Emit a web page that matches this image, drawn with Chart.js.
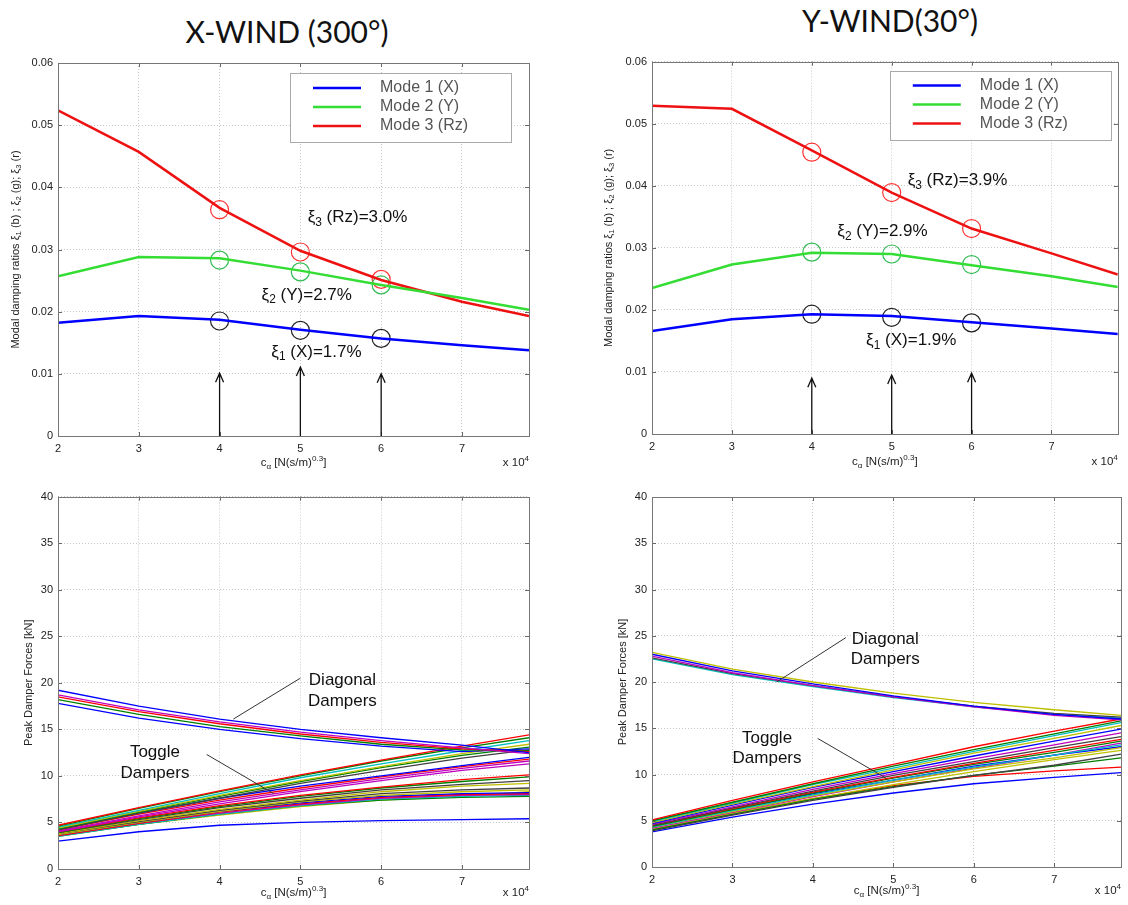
<!DOCTYPE html>
<html>
<head>
<meta charset="utf-8">
<script src="https://cdn.jsdelivr.net/npm/chart.js@4.4.1/dist/chart.umd.min.js"></script>
<style>
  body { margin: 0; background: #fff; width: 1128px; height: 905px; position: relative; overflow: hidden; font-family: Arial, "Liberation Sans", sans-serif; }
  .box { position: absolute; }
  .ttl { position: absolute; font-family: Lato, "Open Sans", sans-serif; font-weight: 400; font-size: 30px; color: #111; white-space: nowrap; transform: translateX(-50%); }
</style>
</head>
<body>
<div class="ttl" style="left:287px;top:13px">X-WIND (300°)</div>
<div class="ttl" style="left:890px;top:2px">Y-WIND(30°)</div>
<div class="box" style="left:0;top:50px;width:560px;height:430px"><canvas id="tl"></canvas></div>
<div class="box" style="left:565px;top:50px;width:563px;height:430px"><canvas id="tr"></canvas></div>
<div class="box" style="left:0;top:485px;width:560px;height:420px"><canvas id="bl"></canvas></div>
<div class="box" style="left:565px;top:485px;width:563px;height:420px"><canvas id="br"></canvas></div>
<script>
// x values (units of 10^4)
const cAlpha = [2, 3, 4, 5, 6, 7, 7.83];
const markX = [4, 5, 6];

// X-wind modal damping
const xMode1 = [0.0182, 0.0193, 0.0187, 0.0171, 0.0157, 0.0146, 0.0138];
const xMode2 = [0.0257, 0.0288, 0.0286, 0.0266, 0.0243, 0.0222, 0.0203];
const xMode3 = [0.0524, 0.0457, 0.0367, 0.0298, 0.0251, 0.0216, 0.0193];
const xMark1 = [0.0185, 0.0170, 0.0157];
const xMark2 = [0.0283, 0.0264, 0.0243];
const xMark3 = [0.0364, 0.0296, 0.0252];
const xArrowTop = [0.0101, 0.0111, 0.0100];

// Y-wind modal damping
const yMode1 = [0.0166, 0.0185, 0.0193, 0.0190, 0.0180, 0.0170, 0.0161];
const yMode2 = [0.0235, 0.0273, 0.0292, 0.0290, 0.0272, 0.0254, 0.0237];
const yMode3 = [0.0529, 0.0524, 0.0457, 0.0389, 0.0331, 0.0291, 0.0257];
const yMark1 = [0.0193, 0.0188, 0.0179];
const yMark2 = [0.0293, 0.0290, 0.0273];
const yMark3 = [0.0454, 0.0389, 0.0331];
const yArrowTop = [0.0090, 0.0095, 0.0098];

const modeNames = ["Mode 1 (X)", "Mode 2 (Y)", "Mode 3 (Rz)"];
const modeColors = ["#0000ff", "#33dd33", "#ee1111"];
const markColors = ["#222222", "#33bb55", "#ff3333"];

// matlab colour order
const mB = "#0000ff", mG = "#008000", mR = "#ff0000", mC = "#00bfbf", mM = "#bf00bf", mY = "#bfbf00", mK = "#404040";

// X-wind peak damper forces [kN]
const xDiagonal = [
  [19.2, 17.5, 16.1, 15.0, 14.1, 13.3, 12.5],
  [18.7, 17.1, 15.8, 14.7, 13.8, 13.0, 12.4],
  [18.5, 16.9, 15.6, 14.5, 13.6, 12.9, 12.6],
  [18.2, 16.6, 15.3, 14.3, 13.4, 12.8, 12.7],
  [17.8, 16.2, 15.0, 14.0, 13.2, 12.6, 12.9]
];
const xDiagonalColors = [mB, mM, mR, mG, mB];
const xToggle = [
  [4.7, 6.6, 8.4, 10.1, 11.7, 13.2, 14.4],
  [4.6, 6.5, 8.3, 10.0, 11.6, 13.0, 14.1],
  [4.5, 6.3, 8.1, 9.8, 11.3, 12.7, 13.8],
  [4.4, 6.2, 7.9, 9.5, 11.0, 12.4, 13.4],
  [4.3, 6.1, 7.8, 9.4, 10.9, 12.2, 13.1],
  [4.2, 6.0, 7.6, 9.2, 10.6, 11.9, 12.8],
  [4.3, 6.0, 7.6, 8.9, 10.0, 11.1, 12.0],
  [4.2, 5.9, 7.4, 8.7, 9.9, 11.0, 11.8],
  [4.1, 5.7, 7.2, 8.5, 9.7, 10.8, 11.6],
  [4.0, 5.6, 7.0, 8.3, 9.5, 10.6, 11.3],
  [4.0, 5.5, 6.8, 7.9, 8.8, 9.6, 10.1],
  [3.9, 5.4, 6.7, 7.8, 8.7, 9.4, 9.9],
  [3.9, 5.3, 6.6, 7.6, 8.5, 9.1, 9.5],
  [3.8, 5.2, 6.4, 7.4, 8.3, 8.9, 9.2],
  [3.8, 5.1, 6.3, 7.3, 8.1, 8.5, 8.7],
  [3.7, 5.0, 6.2, 7.2, 7.9, 8.3, 8.5],
  [3.7, 5.0, 6.2, 7.1, 7.8, 8.1, 8.2],
  [3.6, 4.9, 6.1, 7.0, 7.7, 8.0, 8.1],
  [3.6, 4.9, 6.0, 6.9, 7.6, 7.9, 8.0],
  [3.5, 4.8, 5.9, 6.8, 7.5, 7.8, 7.9],
  [3.5, 4.8, 5.9, 6.8, 7.4, 7.7, 7.8],
  [3.6, 4.8, 5.8, 6.7, 7.4, 7.8, 8.3],
  [3.0, 4.0, 4.7, 5.0, 5.2, 5.3, 5.4]
];
const xToggleColors = [mR, mG, mC, mY, mG, mK, mB, mR, mM, mM, mR, mG, mK, mY, mK, mY, mB, mR, mM, mC, mG, mY, mB];

// Y-wind peak damper forces [kN]
const yDiagonal = [
  [23.2, 21.4, 20.0, 18.8, 17.8, 17.0, 16.4],
  [23.0, 21.2, 19.8, 18.5, 17.4, 16.5, 16.0],
  [22.8, 21.0, 19.6, 18.4, 17.3, 16.4, 15.9],
  [22.6, 20.9, 19.6, 18.4, 17.4, 16.6, 16.2],
  [22.5, 20.8, 19.5, 18.3, 17.3, 16.5, 16.1]
];
const yDiagonalColors = [mY, mB, mM, mK, mC];
const yToggle = [
  [5.1, 7.2, 9.2, 11.1, 13.0, 14.7, 16.0],
  [5.0, 7.0, 9.0, 10.9, 12.7, 14.4, 15.8],
  [4.9, 6.9, 8.9, 10.7, 12.5, 14.2, 15.6],
  [4.8, 6.8, 8.7, 10.5, 12.3, 13.9, 15.3],
  [4.7, 6.7, 8.6, 10.3, 12.0, 13.6, 14.9],
  [4.6, 6.5, 8.4, 10.1, 11.7, 13.2, 14.5],
  [4.5, 6.4, 8.2, 9.9, 11.4, 12.9, 14.1],
  [4.5, 6.3, 8.1, 9.7, 11.2, 12.6, 13.8],
  [4.4, 6.2, 8.0, 9.6, 11.1, 12.4, 13.6],
  [4.3, 6.1, 7.8, 9.4, 10.8, 12.1, 13.2],
  [4.3, 6.0, 7.7, 9.2, 10.6, 11.8, 12.9],
  [4.4, 6.2, 7.9, 9.4, 10.9, 12.1, 13.0],
  [4.2, 5.9, 7.6, 9.2, 10.7, 12.1, 13.4],
  [3.9, 5.6, 7.2, 8.6, 9.9, 11.0, 12.2],
  [4.0, 5.7, 7.3, 8.7, 9.9, 10.9, 11.8],
  [4.1, 5.8, 7.4, 8.9, 10.3, 11.6, 12.6],
  [4.0, 5.8, 7.4, 8.8, 9.8, 10.4, 10.8],
  [3.8, 5.4, 6.8, 8.0, 9.0, 9.7, 10.2]
];
const yToggleColors = [mR, mG, mC, mY, mB, mM, mK, mR, mG, mC, mY, mB, mM, mK, mG, mY, mR, mB];

const xiAnnotX = [
  { x: 5.09, y: 0.0351, parts: [{ t: "ξ" }, { t: "3", sub: 1 }, { t: " (Rz)=3.0%" }] },
  { x: 4.52, y: 0.0227, parts: [{ t: "ξ" }, { t: "2", sub: 1 }, { t: " (Y)=2.7%" }] },
  { x: 4.64, y: 0.0135, parts: [{ t: "ξ" }, { t: "1", sub: 1 }, { t: " (X)=1.7%" }] }
];
const xiAnnotY = [
  { x: 5.20, y: 0.0409, parts: [{ t: "ξ" }, { t: "3", sub: 1 }, { t: " (Rz)=3.9%" }] },
  { x: 4.32, y: 0.0326, parts: [{ t: "ξ" }, { t: "2", sub: 1 }, { t: " (Y)=2.9%" }] },
  { x: 4.68, y: 0.0151, parts: [{ t: "ξ" }, { t: "1", sub: 1 }, { t: " (X)=1.9%" }] }
];

const FONT = "Arial, 'Liberation Sans', sans-serif";

function partsWidth(ctx, parts, size) {
  let w = 0;
  parts.forEach(p => {
    ctx.font = ((p.sub || p.sup) ? size * 0.7 : size) + "px " + FONT;
    w += ctx.measureText(p.t).width;
  });
  return w;
}
function drawParts(ctx, parts, x, y, size, align) {
  let w = partsWidth(ctx, parts, size);
  let cx = align === "center" ? x - w / 2 : (align === "right" ? x - w : x);
  ctx.textAlign = "left";
  ctx.textBaseline = "middle";
  parts.forEach(p => {
    let s = (p.sub || p.sup) ? size * 0.7 : size;
    ctx.font = s + "px " + FONT;
    let dy = p.sub ? size * 0.3 : (p.sup ? -size * 0.38 : 0);
    ctx.fillText(p.t, cx, y + dy);
    cx += ctx.measureText(p.t).width;
  });
}

const xTitle = [{ t: "c" }, { t: "α", sub: 1 }, { t: " [N(s/m)" }, { t: "0.3", sup: 1 }, { t: "]" }];
const xPow = [{ t: "x 10" }, { t: "4", sup: 1 }];
const modalTitle = [{ t: "Modal damping ratios " }, { t: "ξ" }, { t: "1", sub: 1 }, { t: " (b) ; " }, { t: "ξ" }, { t: "2", sub: 1 }, { t: " (g); " }, { t: "ξ" }, { t: "3", sub: 1 }, { t: " (r)" }];
const forceTitle = [{ t: "Peak Damper Forces [kN]" }];

const deco = {
  id: "deco",
  afterDraw(chart, args, o) {
    const ctx = chart.ctx, a = chart.chartArea, sx = chart.scales.x, sy = chart.scales.y;
    ctx.save();
    // inner ticks
    ctx.strokeStyle = "#666"; ctx.lineWidth = 1;
    sx.ticks.forEach(t => {
      let px = Math.round(sx.getPixelForValue(t.value)) + 0.5;
      ctx.beginPath(); ctx.moveTo(px, a.bottom); ctx.lineTo(px, a.bottom - 4);
      ctx.moveTo(px, a.top); ctx.lineTo(px, a.top + 4); ctx.stroke();
    });
    sy.ticks.forEach(t => {
      let py = Math.round(sy.getPixelForValue(t.value)) + 0.5;
      ctx.beginPath(); ctx.moveTo(a.left, py); ctx.lineTo(a.left + 4, py);
      ctx.moveTo(a.right, py); ctx.lineTo(a.right - 4, py); ctx.stroke();
    });
    // box
    ctx.strokeStyle = "#777";
    ctx.strokeRect(Math.round(a.left) + 0.5, Math.round(a.top) + 0.5, Math.round(a.width), Math.round(a.height));

    ctx.fillStyle = "#222";
    drawParts(ctx, xTitle, (a.left + a.right) / 2, a.bottom + o.xTitleDy, 11.5, "center");
    drawParts(ctx, xPow, a.right, a.bottom + o.xTitleDy, 11.5, "right");
    ctx.save();
    ctx.translate(o.yTitleX, (a.top + a.bottom) / 2);
    ctx.rotate(-Math.PI / 2);
    drawParts(ctx, o.yTitle, 0, 0, 11, "center");
    ctx.restore();

    // arrows
    if (o.arrowX) {
      ctx.strokeStyle = "#111"; ctx.lineWidth = 1.3;
      o.arrowX.forEach((x, i) => {
        let px = sx.getPixelForValue(x), p0 = sy.getPixelForValue(0), p1 = sy.getPixelForValue(o.arrowTop[i]);
        ctx.beginPath(); ctx.moveTo(px, p0); ctx.lineTo(px, p1);
        ctx.moveTo(px - 4, p1 + 9); ctx.lineTo(px, p1); ctx.lineTo(px + 4, p1 + 9); ctx.stroke();
      });
    }
    // xi notes
    ctx.fillStyle = "#111";
    (o.notes || []).forEach(n => {
      drawParts(ctx, n.parts, sx.getPixelForValue(n.x), sy.getPixelForValue(n.y), 17, "left");
    });
    // pointer lines and labels
    ctx.strokeStyle = "#333"; ctx.lineWidth = 1;
    (o.pointers || []).forEach(p => {
      ctx.beginPath();
      ctx.moveTo(sx.getPixelForValue(p[0]), sy.getPixelForValue(p[1]));
      ctx.lineTo(sx.getPixelForValue(p[2]), sy.getPixelForValue(p[3]));
      ctx.stroke();
    });
    (o.labels || []).forEach(l => {
      drawParts(ctx, [{ t: l.t }], sx.getPixelForValue(l.x), sy.getPixelForValue(l.y), 17, "center");
    });
    // legend
    if (o.legend) {
      let L = o.legend, bx = a.right - L.inset - 221, by = a.top + L.top;
      ctx.fillStyle = "#fff"; ctx.fillRect(bx, by, 221, 69);
      ctx.strokeStyle = "#aaa"; ctx.lineWidth = 1;
      ctx.strokeRect(Math.round(bx) + 0.5, Math.round(by) + 0.5, 221, 69);
      modeNames.forEach((nm, i) => {
        let ry = by + 15 + i * 19;
        ctx.strokeStyle = modeColors[i]; ctx.lineWidth = 2.5;
        ctx.beginPath(); ctx.moveTo(bx + 23, ry); ctx.lineTo(bx + 71, ry); ctx.stroke();
        ctx.fillStyle = "#555";
        drawParts(ctx, [{ t: nm }], bx + 90, ry, 16, "left");
      });
    }
    ctx.restore();
  }
};

function series(vals, color, width) {
  return {
    data: cAlpha.map((x, i) => ({ x: x, y: vals[i] })),
    borderColor: color, borderWidth: width, pointRadius: 0, fill: false, tension: 0
  };
}
function marks(vals, color) {
  return {
    data: markX.map((x, i) => ({ x: x, y: vals[i] })),
    showLine: false, pointRadius: 9, pointBorderWidth: 1.2,
    pointBorderColor: color, pointBackgroundColor: "rgba(0,0,0,0)"
  };
}

function makeChart(id, datasets, yMax, yStep, yFmt, padTop, padRight, yW, xH, decoOpts) {
  new Chart(document.getElementById(id), {
    type: "line",
    data: { datasets: datasets },
    options: {
      responsive: true, maintainAspectRatio: false, animation: false,
      layout: { padding: { top: padTop, right: padRight, left: 0, bottom: 0 } },
      plugins: { legend: { display: false }, tooltip: { enabled: false }, deco: decoOpts },
      scales: {
        x: {
          type: "linear", min: 2, max: 7.83,
          ticks: { stepSize: 1, includeBounds: false, padding: 6, maxRotation: 0, color: "#222", font: { size: 11, family: FONT } },
          grid: { color: "#c8c8c8", drawTicks: false },
          border: { display: false, dash: [1, 2] },
          afterFit: s => { s.height = xH; }
        },
        y: {
          min: 0, max: yMax,
          ticks: { stepSize: yStep, padding: 5, color: "#222", font: { size: 11, family: FONT }, callback: yFmt },
          grid: { color: "#c8c8c8", drawTicks: false },
          border: { display: false, dash: [1, 2] },
          afterFit: s => { s.width = yW; }
        }
      }
    },
    plugins: [deco]
  });
}

const fmtRatio = v => v === 0 ? "0" : v.toFixed(2);
const fmtForce = v => String(Math.round(v));

// top left
makeChart("tl", [
  series(xMode1, modeColors[0], 2.5), series(xMode2, modeColors[1], 2.5), series(xMode3, modeColors[2], 2.5),
  marks(xMark1, markColors[0]), marks(xMark2, markColors[1]), marks(xMark3, markColors[2])
], 0.06, 0.01, fmtRatio, 13, 31, 58, 44, {
  yTitle: modalTitle, yTitleX: 16, xTitleDy: 27,
  arrowX: markX, arrowTop: xArrowTop, notes: xiAnnotX, legend: { inset: 18, top: 10 }
});

// top right
makeChart("tr", [
  series(yMode1, modeColors[0], 2.5), series(yMode2, modeColors[1], 2.5), series(yMode3, modeColors[2], 2.5),
  marks(yMark1, markColors[0]), marks(yMark2, markColors[1]), marks(yMark3, markColors[2])
], 0.06, 0.01, fmtRatio, 11, 7, 87, 46, {
  yTitle: modalTitle, yTitleX: 44, xTitleDy: 28,
  arrowX: markX, arrowTop: yArrowTop, notes: xiAnnotY, legend: { inset: 7, top: 9 }
});

// bottom left
makeChart("bl",
  xDiagonal.map((v, i) => series(v, xDiagonalColors[i], 1.3)).concat(xToggle.map((v, i) => series(v, xToggleColors[i], 1.3))),
  40, 5, fmtForce, 11, 31, 58, 36, {
  yTitle: forceTitle, yTitleX: 29, xTitleDy: 24,
  pointers: [[4.17, 16.1, 5.0, 20.5], [3.84, 12.3, 4.67, 8.1]],
  labels: [{ t: "Diagonal", x: 5.52, y: 20.3 }, { t: "Dampers", x: 5.52, y: 18.0 }, { t: "Toggle", x: 3.2, y: 12.5 }, { t: "Dampers", x: 3.2, y: 10.3 }]
});

// bottom right
makeChart("br",
  yDiagonal.map((v, i) => series(v, yDiagonalColors[i], 1.3)).concat(yToggle.map((v, i) => series(v, yToggleColors[i], 1.3))),
  40, 5, fmtForce, 12, 7, 87, 38, {
  yTitle: forceTitle, yTitleX: 58, xTitleDy: 24,
  pointers: [[4.41, 24.8, 3.55, 20.0], [4.06, 13.9, 4.91, 9.6]],
  labels: [{ t: "Diagonal", x: 4.9, y: 24.6 }, { t: "Dampers", x: 4.9, y: 22.4 }, { t: "Toggle", x: 3.43, y: 13.9 }, { t: "Dampers", x: 3.43, y: 11.8 }]
});
</script>
</body>
</html>
